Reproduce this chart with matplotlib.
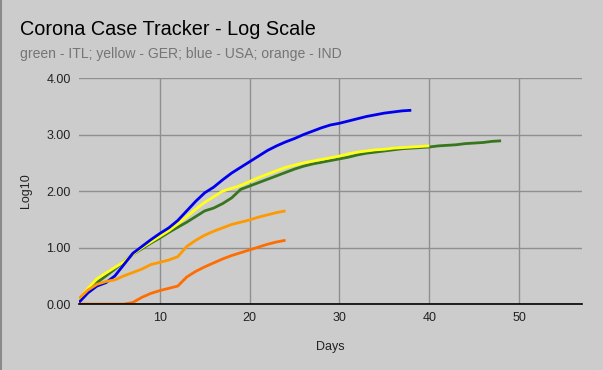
import matplotlib
matplotlib.use("Agg")
import matplotlib.pyplot as plt
import numpy as np

plt.rcParams['font.family'] = ['Liberation Sans', 'DejaVu Sans']

# log10 of case counts, one value per day starting at day 1
itl = [0.05, 0.22, 0.38, 0.50, 0.62, 0.75, 0.88, 0.98, 1.08, 1.17,
       1.27, 1.36, 1.45, 1.55, 1.65, 1.70, 1.78, 1.88, 2.03, 2.09,
       2.15, 2.21, 2.27, 2.33, 2.39, 2.44, 2.48, 2.51, 2.54, 2.57,
       2.60, 2.64, 2.67, 2.69, 2.71, 2.73, 2.75, 2.76, 2.77, 2.78,
       2.80, 2.81, 2.82, 2.84, 2.85, 2.86, 2.88, 2.89]
ger = [0.08, 0.28, 0.45, 0.55, 0.65, 0.75, 0.88, 1.00, 1.10, 1.20,
       1.30, 1.42, 1.55, 1.68, 1.80, 1.90, 2.00, 2.05, 2.10, 2.17,
       2.24, 2.30, 2.36, 2.42, 2.46, 2.50, 2.53, 2.56, 2.59, 2.62,
       2.66, 2.69, 2.71, 2.73, 2.74, 2.76, 2.77, 2.78, 2.79, 2.80]
usa = [0.03, 0.20, 0.32, 0.38, 0.50, 0.70, 0.90, 1.02, 1.14, 1.25,
       1.35, 1.48, 1.65, 1.82, 1.97, 2.07, 2.20, 2.32, 2.42, 2.52,
       2.62, 2.72, 2.80, 2.87, 2.93, 3.00, 3.06, 3.12, 3.17, 3.20,
       3.24, 3.28, 3.32, 3.35, 3.38, 3.40, 3.42, 3.43]
ind_a = [0.10, 0.25, 0.35, 0.40, 0.43, 0.50, 0.56, 0.62, 0.70, 0.74,
         0.78, 0.84, 1.02, 1.13, 1.22, 1.29, 1.35, 1.41, 1.45, 1.49,
         1.54, 1.58, 1.62, 1.65]
ind_b = [0.00, 0.00, 0.00, 0.00, 0.00, 0.00, 0.03, 0.12, 0.19, 0.24,
         0.28, 0.32, 0.48, 0.58, 0.66, 0.73, 0.80, 0.86, 0.91, 0.96,
         1.01, 1.06, 1.10, 1.13]

series = [
    (itl, '#38761d'),
    (ger, '#ffff1a'),
    (usa, '#0000ee'),
    (ind_a, '#ff9900'),
    (ind_b, '#ff6d01'),
]

bg = '#cccccc'
fig = plt.figure(figsize=(6.03, 3.70), dpi=100, facecolor=bg)
ax = fig.add_axes([0.131, 0.178, 0.834, 0.611], facecolor=bg)

for vals, col in series:
    days = np.arange(1, len(vals) + 1)
    ax.plot(days, vals, color=col, lw=2, solid_capstyle='butt', zorder=3)

ax.set_xlim(1, 57)
ax.set_ylim(0, 4)
ax.set_xticks([10, 20, 30, 40, 50])
ax.set_yticks([0, 1, 2, 3, 4])
ax.set_yticklabels(['%.2f' % v for v in [0, 1, 2, 3, 4]])
ax.grid(True, color='#8f8f8f', lw=1)
ax.set_axisbelow(True)
for s in ['top', 'right', 'left']:
    ax.spines[s].set_visible(False)
ax.spines['bottom'].set_color('black')
ax.spines['bottom'].set_linewidth(1.2)
ax.spines['bottom'].set_zorder(4)
ax.tick_params(length=0, labelsize=9, colors='#222222', pad=6)

ax.set_xlabel('Days', fontsize=9, color='#222222', labelpad=12)
ax.set_ylabel('Log10', fontsize=9, color='#222222', labelpad=10)

fig.text(0.033, 0.92, 'Corona Case Tracker - Log Scale', fontsize=14.3,
         color='black', va='center')
fig.text(0.033, 0.853, 'green - ITL; yellow - GER; blue - USA; orange - IND',
         fontsize=10.1, color='#757575', va='center')

fig.add_artist(plt.Line2D([0.001, 0.001], [0, 1], color='#8a8a8a', lw=1.5,
                          transform=fig.transFigure))

fig.savefig('out.png', dpi=100, facecolor=bg)
